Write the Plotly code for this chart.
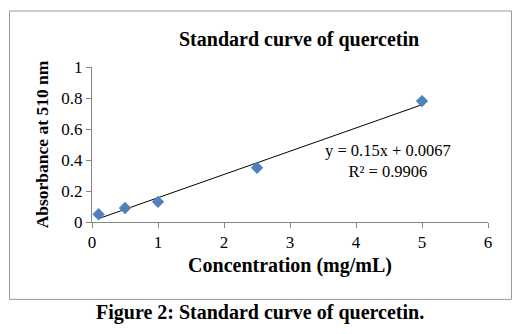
import plotly.graph_objects as go

# Data
concentration = [0.1, 0.5, 1.0, 2.5, 5.0]
absorbance = [0.05, 0.09, 0.13, 0.35, 0.78]
slope = 0.15
intercept = 0.0067
r_squared = 0.9906
x_ticks = [0, 1, 2, 3, 4, 5, 6]
y_ticks = [0, 0.2, 0.4, 0.6, 0.8, 1]

W, H = 519, 334
L, R, T, B = 92, 31, 66.7, 111.7
pw, ph = W - L - R, H - T - B

def px_x(x):
    return (x - L) / pw

def px_y(y):
    return (H - B - y) / ph

font = "Liberation Serif"

trend_x = [min(concentration), max(concentration)]
trend_y = [slope * x + intercept for x in trend_x]

fig = go.Figure()
fig.add_trace(go.Scatter(x=trend_x, y=trend_y, mode="lines",
                         line=dict(color="black", width=1), showlegend=False))
fig.add_trace(go.Scatter(x=concentration, y=absorbance, mode="markers",
                         marker=dict(symbol="diamond", size=9.5, color="#4F81BD"),
                         showlegend=False))

axis_common = dict(showgrid=False, zeroline=False, showline=True, linecolor="#868686",
                   linewidth=1, ticks="outside", ticklen=5, tickcolor="#868686",
                   tickfont=dict(family=font, size=17, color="black"))

fig.update_layout(
    width=W, height=H,
    margin=dict(l=L, r=R, t=T, b=B),
    paper_bgcolor="white", plot_bgcolor="white",
    xaxis=dict(range=[0, 6], tickvals=x_ticks, ticktext=[str(v) for v in x_ticks],
               title=dict(text="<b>Concentration (mg/mL)</b>",
                          font=dict(family=font, size=20, color="black"), standoff=6),
               **axis_common),
    yaxis=dict(range=[0, 1], tickvals=y_ticks, ticktext=[f"{v:g}" for v in y_ticks],
               title=dict(text="<b>Absorbance at 510 nm</b>",
                          font=dict(family=font, size=17.5, color="black"), standoff=8),
               **axis_common),
    shapes=[dict(type="rect", xref="paper", yref="paper",
                 x0=px_x(9.5), x1=px_x(511.5), y0=px_y(300), y1=px_y(10.5),
                 line=dict(color="#9a9a9a", width=1), fillcolor="rgba(0,0,0,0)")],
    annotations=[
        dict(text="<b>Standard curve of quercetin</b>", xref="paper", yref="paper",
             x=px_x(299), y=px_y(39), showarrow=False, xanchor="center", yanchor="middle",
             font=dict(family=font, size=20, color="black")),
        dict(text=f"y = {slope:g}x + {intercept:g}<br>R² = {r_squared:g}",
             xref="paper", yref="paper", x=px_x(388), y=px_y(161.5),
             showarrow=False, xanchor="center", yanchor="middle", align="center",
             font=dict(family=font, size=16.5, color="black")),
        dict(text="<b>Figure 2: Standard curve of quercetin.</b>", xref="paper", yref="paper",
             x=px_x(260), y=px_y(313), showarrow=False, xanchor="center", yanchor="middle",
             font=dict(family=font, size=20, color="black")),
    ],
)

fig.write_html("out.html")
